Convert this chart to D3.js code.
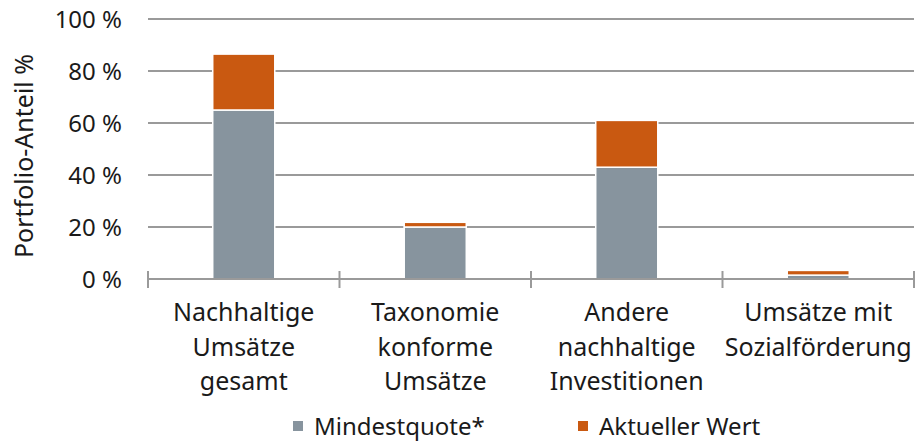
<!DOCTYPE html>
<html>
<head>
<meta charset="utf-8">
<script src="https://cdn.jsdelivr.net/npm/d3@7"></script>
<style>
  body { margin: 0; background: #fff; }
  svg text { font-family: "Noto Sans", "Open Sans", sans-serif; fill: #1a1a1a; }
</style>
</head>
<body>
<svg id="chart" width="918" height="443"></svg>
<script>
// categories (multi-line labels)
const categories = [
    ["Nachhaltige", "Umsätze", "gesamt"],
    ["Taxonomie", "konforme", "Umsätze"],
    ["Andere", "nachhaltige", "Investitionen"],
    ["Umsätze mit", "Sozialförderung"]
];
const seriesNames = ["Mindestquote*", "Aktueller Wert"];
const mindestquote = [65, 20, 43, 1.5];
const aktuellerWert = [21.5, 1.8, 18, 1.8];
const yTicks = [0, 20, 40, 60, 80, 100];

const colors = ["#87949e", "#c95911"];

const margin = {left: 148, right: 4, top: 19, bottom: 164};
const width = 918, height = 443;
const w = width - margin.left - margin.right,
      h = height - margin.top - margin.bottom;

const svg = d3.select("#chart");
const g = svg.append("g").attr("transform", `translate(${margin.left},${margin.top})`);

const x = d3.scaleBand()
    .domain(d3.range(categories.length))
    .range([0, w])
    .paddingInner(0.676)
    .paddingOuter(0.338);

const y = d3.scaleLinear().domain([0, 100]).range([h, 0]);

//gridlines
g.selectAll(".grid")
    .data(yTicks.filter(d => d > 0))
    .enter().append("line")
    .attr("x1", 0).attr("x2", w)
    .attr("y1", d => y(d)).attr("y2", d => y(d))
    .attr("stroke", "#9a9a9a").attr("stroke-width", 2);

//y tick labels
g.selectAll(".ylab")
    .data(yTicks)
    .enter().append("text")
    .attr("x", -26)
    .attr("y", d => y(d))
    .attr("dy", "0.36em")
    .attr("text-anchor", "end")
    .style("font-size", "24px")
    .text(d => d + " %");

//stacked data
const stackData = categories.map((c, i) => ({i: i, m: mindestquote[i], a: aktuellerWert[i]}));
const stack = d3.stack().keys(["m", "a"])(stackData);

g.selectAll(".layer")
    .data(stack)
    .enter().append("g")
    .attr("fill", (d, k) => colors[k])
    .selectAll("rect")
    .data(d => d)
    .enter().append("rect")
    .attr("x", d => x(d.data.i))
    .attr("width", x.bandwidth())
    .attr("y", d => y(d[1]))
    .attr("height", d => y(d[0]) - y(d[1]))
    .attr("stroke", "#fff")
    .attr("stroke-width", 1.5);

//x axis line + ticks
g.append("line")
    .attr("x1", 0).attr("x2", w)
    .attr("y1", h).attr("y2", h)
    .attr("stroke", "#9a9a9a").attr("stroke-width", 2);

const boundaries = d3.range(categories.length + 1).map(i => i * x.step());
g.selectAll(".xtick")
    .data(boundaries)
    .enter().append("line")
    .attr("x1", d => d).attr("x2", d => d)
    .attr("y1", h - 8).attr("y2", h + 9)
    .attr("stroke", "#9a9a9a").attr("stroke-width", 2);

//category labels
const xl = g.selectAll(".xlab")
    .data(categories)
    .enter().append("text")
    .attr("text-anchor", "middle")
    .attr("transform", (d, i) => `translate(${x(i) + x.bandwidth() / 2},${h + 42})`)
    .style("font-size", "25px");
xl.selectAll("tspan")
    .data(d => d)
    .enter().append("tspan")
    .attr("x", 0)
    .attr("y", (d, k) => k * 34.5)
    .text(d => d);

//y axis title
svg.append("text")
    .attr("transform", `translate(33,${margin.top + h / 2 + 7}) rotate(-90)`)
    .attr("text-anchor", "middle")
    .style("font-size", "25px")
    .text("Portfolio-Anteil %");

//legend
const legendX = [293, 578];
const legend = svg.selectAll(".legend")
    .data(seriesNames)
    .enter().append("g")
    .attr("transform", (d, i) => `translate(${legendX[i]},421)`);
legend.append("rect")
    .attr("width", 10).attr("height", 10)
    .attr("fill", (d, i) => colors[i]);
legend.append("text")
    .attr("x", 21).attr("y", 14)
    .style("font-size", "24px")
    .text(d => d);
</script>
</body>
</html>
